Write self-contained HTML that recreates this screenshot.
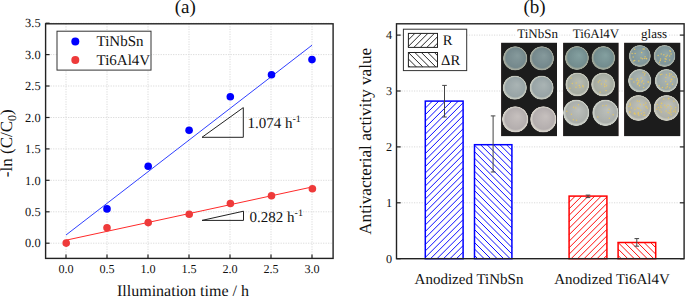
<!DOCTYPE html>
<html><head><meta charset="utf-8"><style>
html,body{margin:0;padding:0;background:#fff;width:685px;height:296px;overflow:hidden}
svg{display:block}
text{font-family:"Liberation Serif", serif;fill:#111;text-rendering:geometricPrecision}
</style></head><body>
<svg width="685" height="296" viewBox="0 0 685 296">
<line x1="66.0" y1="23.8" x2="66.0" y2="258.4" stroke="#dadada" stroke-width="1" stroke-dasharray="1.2,1.3"/>
<line x1="107.0" y1="23.8" x2="107.0" y2="258.4" stroke="#dadada" stroke-width="1" stroke-dasharray="1.2,1.3"/>
<line x1="148.0" y1="23.8" x2="148.0" y2="258.4" stroke="#dadada" stroke-width="1" stroke-dasharray="1.2,1.3"/>
<line x1="189.0" y1="23.8" x2="189.0" y2="258.4" stroke="#dadada" stroke-width="1" stroke-dasharray="1.2,1.3"/>
<line x1="230.0" y1="23.8" x2="230.0" y2="258.4" stroke="#dadada" stroke-width="1" stroke-dasharray="1.2,1.3"/>
<line x1="271.0" y1="23.8" x2="271.0" y2="258.4" stroke="#dadada" stroke-width="1" stroke-dasharray="1.2,1.3"/>
<line x1="312.0" y1="23.8" x2="312.0" y2="258.4" stroke="#dadada" stroke-width="1" stroke-dasharray="1.2,1.3"/>
<line x1="45.6" y1="243.2" x2="333.1" y2="243.2" stroke="#dadada" stroke-width="1" stroke-dasharray="1.2,1.3"/>
<line x1="45.6" y1="211.8" x2="333.1" y2="211.8" stroke="#dadada" stroke-width="1" stroke-dasharray="1.2,1.3"/>
<line x1="45.6" y1="180.3" x2="333.1" y2="180.3" stroke="#dadada" stroke-width="1" stroke-dasharray="1.2,1.3"/>
<line x1="45.6" y1="148.9" x2="333.1" y2="148.9" stroke="#dadada" stroke-width="1" stroke-dasharray="1.2,1.3"/>
<line x1="45.6" y1="117.5" x2="333.1" y2="117.5" stroke="#dadada" stroke-width="1" stroke-dasharray="1.2,1.3"/>
<line x1="45.6" y1="86.0" x2="333.1" y2="86.0" stroke="#dadada" stroke-width="1" stroke-dasharray="1.2,1.3"/>
<line x1="45.6" y1="54.6" x2="333.1" y2="54.6" stroke="#dadada" stroke-width="1" stroke-dasharray="1.2,1.3"/>
<line x1="45.6" y1="23.2" x2="333.1" y2="23.2" stroke="#dadada" stroke-width="1" stroke-dasharray="1.2,1.3"/>
<line x1="66.0" y1="258.4" x2="66.0" y2="254.39999999999998" stroke="#222" stroke-width="1.2"/>
<text x="66.0" y="273" font-size="12.2" text-anchor="middle">0.0</text>
<line x1="107.0" y1="258.4" x2="107.0" y2="254.39999999999998" stroke="#222" stroke-width="1.2"/>
<text x="107.0" y="273" font-size="12.2" text-anchor="middle">0.5</text>
<line x1="148.0" y1="258.4" x2="148.0" y2="254.39999999999998" stroke="#222" stroke-width="1.2"/>
<text x="148.0" y="273" font-size="12.2" text-anchor="middle">1.0</text>
<line x1="189.0" y1="258.4" x2="189.0" y2="254.39999999999998" stroke="#222" stroke-width="1.2"/>
<text x="189.0" y="273" font-size="12.2" text-anchor="middle">1.5</text>
<line x1="230.0" y1="258.4" x2="230.0" y2="254.39999999999998" stroke="#222" stroke-width="1.2"/>
<text x="230.0" y="273" font-size="12.2" text-anchor="middle">2.0</text>
<line x1="271.0" y1="258.4" x2="271.0" y2="254.39999999999998" stroke="#222" stroke-width="1.2"/>
<text x="271.0" y="273" font-size="12.2" text-anchor="middle">2.5</text>
<line x1="312.0" y1="258.4" x2="312.0" y2="254.39999999999998" stroke="#222" stroke-width="1.2"/>
<text x="312.0" y="273" font-size="12.2" text-anchor="middle">3.0</text>
<line x1="45.6" y1="243.2" x2="49.6" y2="243.2" stroke="#222" stroke-width="1.2"/>
<text x="40.6" y="247.4" font-size="12.4" text-anchor="end">0.0</text>
<line x1="45.6" y1="211.8" x2="49.6" y2="211.8" stroke="#222" stroke-width="1.2"/>
<text x="40.6" y="216.0" font-size="12.4" text-anchor="end">0.5</text>
<line x1="45.6" y1="180.3" x2="49.6" y2="180.3" stroke="#222" stroke-width="1.2"/>
<text x="40.6" y="184.5" font-size="12.4" text-anchor="end">1.0</text>
<line x1="45.6" y1="148.9" x2="49.6" y2="148.9" stroke="#222" stroke-width="1.2"/>
<text x="40.6" y="153.1" font-size="12.4" text-anchor="end">1.5</text>
<line x1="45.6" y1="117.5" x2="49.6" y2="117.5" stroke="#222" stroke-width="1.2"/>
<text x="40.6" y="121.7" font-size="12.4" text-anchor="end">2.0</text>
<line x1="45.6" y1="86.0" x2="49.6" y2="86.0" stroke="#222" stroke-width="1.2"/>
<text x="40.6" y="90.2" font-size="12.4" text-anchor="end">2.5</text>
<line x1="45.6" y1="54.6" x2="49.6" y2="54.6" stroke="#222" stroke-width="1.2"/>
<text x="40.6" y="58.8" font-size="12.4" text-anchor="end">3.0</text>
<line x1="45.6" y1="23.2" x2="49.6" y2="23.2" stroke="#222" stroke-width="1.2"/>
<text x="40.6" y="27.4" font-size="12.4" text-anchor="end">3.5</text>
<line x1="66" y1="235" x2="312" y2="45.2" stroke="#3040ff" stroke-width="1"/>
<line x1="66" y1="240.2" x2="312" y2="187" stroke="#ff2a2a" stroke-width="1"/>
<circle cx="107" cy="208.9" r="3.8" fill="#0000ff"/>
<circle cx="148.2" cy="166.3" r="3.8" fill="#0000ff"/>
<circle cx="189.1" cy="130.2" r="3.8" fill="#0000ff"/>
<circle cx="230.3" cy="96.7" r="3.8" fill="#0000ff"/>
<circle cx="271.5" cy="74.8" r="3.8" fill="#0000ff"/>
<circle cx="312" cy="59.6" r="3.8" fill="#0000ff"/>
<circle cx="66.2" cy="243.1" r="3.8" fill="#ee3a3a"/>
<circle cx="107" cy="227.7" r="3.8" fill="#ee3a3a"/>
<circle cx="189.2" cy="214.2" r="3.8" fill="#ee3a3a"/>
<circle cx="148.2" cy="222.6" r="3.8" fill="#ee3a3a"/>
<circle cx="230.4" cy="203.5" r="3.8" fill="#ee3a3a"/>
<circle cx="271.5" cy="195.8" r="3.8" fill="#ee3a3a"/>
<circle cx="312.4" cy="188.7" r="3.8" fill="#ee3a3a"/>
<path d="M202,137.3 L243.3,137.3 L243.3,107.6 Z" fill="none" stroke="#222" stroke-width="1"/>
<path d="M202,220.4 L243.5,220.4 L243.5,211.2 Z" fill="none" stroke="#222" stroke-width="1"/>
<text x="247.5" y="127.9" font-size="15">1.074 h<tspan font-size="10" dy="-6">-1</tspan></text>
<text x="249.6" y="221.5" font-size="15">0.282 h<tspan font-size="10" dy="-6">-1</tspan></text>
<rect x="57" y="31.2" width="94.0" height="38.9" fill="#fff" stroke="#333" stroke-width="1"/>
<circle cx="75.3" cy="41.4" r="4" fill="#0000ff"/>
<circle cx="75.3" cy="60" r="4" fill="#ee3a3a"/>
<text x="96.5" y="46.3" font-size="15">TiNbSn</text>
<text x="96.5" y="64.7" font-size="15">Ti6Al4V</text>
<rect x="45.6" y="23.8" width="287.5" height="234.6" fill="none" stroke="#222" stroke-width="1.4"/>
<text x="185.3" y="12.8" font-size="19" text-anchor="middle">(a)</text>
<text x="183" y="295.8" font-size="16" text-anchor="middle">Illumination time / h</text>
<text transform="translate(12.3,143.2) rotate(-90)" font-size="17" text-anchor="middle">-ln (C/C<tspan font-size="12" dy="3.8">0</tspan><tspan dy="-3.8">)</tspan></text>
<line x1="396.5" y1="202.8" x2="684.1" y2="202.8" stroke="#dadada" stroke-width="1" stroke-dasharray="1.2,1.3"/>
<line x1="396.5" y1="146.9" x2="684.1" y2="146.9" stroke="#dadada" stroke-width="1" stroke-dasharray="1.2,1.3"/>
<line x1="396.5" y1="91.0" x2="684.1" y2="91.0" stroke="#dadada" stroke-width="1" stroke-dasharray="1.2,1.3"/>
<line x1="396.5" y1="35.1" x2="684.1" y2="35.1" stroke="#dadada" stroke-width="1" stroke-dasharray="1.2,1.3"/>
<defs><pattern id="hb1" patternUnits="userSpaceOnUse" width="4.589" height="4.589" patternTransform="translate(425.1,101.1) rotate(45)"><line x1="0" y1="-1" x2="0" y2="5.589" stroke="#0000ff" stroke-width="0.9"/><line x1="4.589" y1="-1" x2="4.589" y2="5.589" stroke="#0000ff" stroke-width="0.9"/></pattern><pattern id="hb2" patternUnits="userSpaceOnUse" width="4.589" height="4.589" patternTransform="translate(474.5,144.4) rotate(-45)"><line x1="0" y1="-1" x2="0" y2="5.589" stroke="#0000ff" stroke-width="0.9"/><line x1="4.589" y1="-1" x2="4.589" y2="5.589" stroke="#0000ff" stroke-width="0.9"/></pattern><pattern id="hr3" patternUnits="userSpaceOnUse" width="4.589" height="4.589" patternTransform="translate(568.8,196.3) rotate(45)"><line x1="0" y1="-1" x2="0" y2="5.589" stroke="#ff0000" stroke-width="0.9"/><line x1="4.589" y1="-1" x2="4.589" y2="5.589" stroke="#ff0000" stroke-width="0.9"/></pattern><pattern id="hr4" patternUnits="userSpaceOnUse" width="4.589" height="4.589" patternTransform="translate(618.6,242.1) rotate(-45)"><line x1="0" y1="-1" x2="0" y2="5.589" stroke="#ff0000" stroke-width="0.9"/><line x1="4.589" y1="-1" x2="4.589" y2="5.589" stroke="#ff0000" stroke-width="0.9"/></pattern><pattern id="hkf" patternUnits="userSpaceOnUse" width="4.589" height="4.589" patternTransform="translate(408.4,33.4) rotate(45)"><line x1="0" y1="-1" x2="0" y2="5.589" stroke="#111" stroke-width="0.9"/><line x1="4.589" y1="-1" x2="4.589" y2="5.589" stroke="#111" stroke-width="0.9"/></pattern><pattern id="hkb" patternUnits="userSpaceOnUse" width="4.589" height="4.589" patternTransform="translate(408.4,52.5) rotate(-45)"><line x1="0" y1="-1" x2="0" y2="5.589" stroke="#111" stroke-width="0.9"/><line x1="4.589" y1="-1" x2="4.589" y2="5.589" stroke="#111" stroke-width="0.9"/></pattern><radialGradient id="p1r1" cx="50%" cy="50%" r="50%" fx="60%" fy="38%"><stop offset="0" stop-color="#869a9c"/><stop offset="0.8" stop-color="#74888c"/><stop offset="0.92" stop-color="#a4aa9e"/><stop offset="0.97" stop-color="#a4aa9e"/><stop offset="1" stop-color="#3a403e"/></radialGradient><radialGradient id="p1r2" cx="50%" cy="50%" r="50%" fx="60%" fy="38%"><stop offset="0" stop-color="#aab4b4"/><stop offset="0.8" stop-color="#98a4a6"/><stop offset="0.92" stop-color="#c4c8be"/><stop offset="0.97" stop-color="#c4c8be"/><stop offset="1" stop-color="#4a4e4c"/></radialGradient><radialGradient id="p1r3" cx="50%" cy="50%" r="50%" fx="60%" fy="38%"><stop offset="0" stop-color="#c6c0be"/><stop offset="0.8" stop-color="#b4aeae"/><stop offset="0.92" stop-color="#d4d0c8"/><stop offset="0.97" stop-color="#d4d0c8"/><stop offset="1" stop-color="#4e4a4a"/></radialGradient><radialGradient id="p2r1" cx="50%" cy="50%" r="50%" fx="60%" fy="38%"><stop offset="0" stop-color="#84a0a0"/><stop offset="0.8" stop-color="#728c8e"/><stop offset="0.92" stop-color="#a0a89a"/><stop offset="0.97" stop-color="#a0a89a"/><stop offset="1" stop-color="#3a403e"/></radialGradient><radialGradient id="p2r2" cx="50%" cy="50%" r="50%" fx="60%" fy="38%"><stop offset="0" stop-color="#b8bcb2"/><stop offset="0.8" stop-color="#a6aca2"/><stop offset="0.92" stop-color="#c8cabe"/><stop offset="0.97" stop-color="#c8cabe"/><stop offset="1" stop-color="#4a4e48"/></radialGradient><radialGradient id="p2r3" cx="50%" cy="50%" r="50%" fx="60%" fy="38%"><stop offset="0" stop-color="#bcc0bc"/><stop offset="0.8" stop-color="#aaaeaa"/><stop offset="0.92" stop-color="#cacec6"/><stop offset="0.97" stop-color="#cacec6"/><stop offset="1" stop-color="#4e504e"/></radialGradient><radialGradient id="p3r1" cx="50%" cy="50%" r="50%" fx="60%" fy="38%"><stop offset="0" stop-color="#92a8a8"/><stop offset="0.8" stop-color="#80969a"/><stop offset="0.92" stop-color="#a8b0a6"/><stop offset="0.97" stop-color="#a8b0a6"/><stop offset="1" stop-color="#3e4644"/></radialGradient><radialGradient id="p3r2" cx="50%" cy="50%" r="50%" fx="60%" fy="38%"><stop offset="0" stop-color="#aeb8b6"/><stop offset="0.8" stop-color="#9ca8a6"/><stop offset="0.92" stop-color="#c0c6bc"/><stop offset="0.97" stop-color="#c0c6bc"/><stop offset="1" stop-color="#464c4a"/></radialGradient><radialGradient id="p3r3" cx="50%" cy="50%" r="50%" fx="60%" fy="38%"><stop offset="0" stop-color="#c0c2ba"/><stop offset="0.8" stop-color="#aeb0a8"/><stop offset="0.92" stop-color="#cacabe"/><stop offset="0.97" stop-color="#cacabe"/><stop offset="1" stop-color="#4e504c"/></radialGradient><filter id="soft" x="-5%" y="-5%" width="110%" height="110%"><feGaussianBlur stdDeviation="0.45"/></filter></defs>
<rect x="425.3" y="101.1" width="37.8" height="157.6" fill="#fff"/>
<path d="M425.3,101.66L425.9,101.06M425.3,108.15L432.39,101.06M425.3,114.64L438.88,101.06M425.3,121.13L445.37,101.06M425.3,127.62L451.86,101.06M425.3,134.11L458.35,101.06M425.3,140.6L463.1,102.8M425.3,147.09L463.1,109.29M425.3,153.58L463.1,115.78M425.3,160.07L463.1,122.27M425.3,166.56L463.1,128.76M425.3,173.05L463.1,135.25M425.3,179.54L463.1,141.74M425.3,186.03L463.1,148.23M425.3,192.52L463.1,154.72M425.3,199.01L463.1,161.21M425.3,205.5L463.1,167.7M425.3,211.99L463.1,174.19M425.3,218.48L463.1,180.68M425.3,224.97L463.1,187.17M425.3,231.46L463.1,193.66M425.3,237.95L463.1,200.15M425.3,244.44L463.1,206.64M425.3,250.93L463.1,213.13M425.3,257.42L463.1,219.62M430.51,258.7L463.1,226.11M437.0,258.7L463.1,232.6M443.49,258.7L463.1,239.09M449.98,258.7L463.1,245.58M456.47,258.7L463.1,252.07M462.96,258.7L463.1,258.56" stroke="#0000ff" stroke-width="0.95" fill="none"/>
<rect x="425.3" y="101.1" width="37.8" height="157.6" fill="none" stroke="#0000ff" stroke-width="1.5"/>
<rect x="474.5" y="144.7" width="37.4" height="114.0" fill="#fff"/>
<path d="M474.5,255.49L477.71,258.7M474.5,249.0L484.2,258.7M474.5,242.51L490.69,258.7M474.5,236.02L497.18,258.7M474.5,229.53L503.67,258.7M474.5,223.04L510.16,258.7M474.5,216.55L511.9,253.95M474.5,210.06L511.9,247.46M474.5,203.57L511.9,240.97M474.5,197.08L511.9,234.48M474.5,190.59L511.9,227.99M474.5,184.1L511.9,221.5M474.5,177.61L511.9,215.01M474.5,171.12L511.9,208.52M474.5,164.63L511.9,202.03M474.5,158.14L511.9,195.54M474.5,151.65L511.9,189.05M474.5,145.16L511.9,182.56M480.49,144.66L511.9,176.07M486.98,144.66L511.9,169.58M493.47,144.66L511.9,163.09M499.96,144.66L511.9,156.6M506.45,144.66L511.9,150.11" stroke="#0000ff" stroke-width="0.95" fill="none"/>
<rect x="474.5" y="144.7" width="37.4" height="114.0" fill="none" stroke="#0000ff" stroke-width="1.5"/>
<rect x="569.1" y="196.1" width="37.8" height="62.6" fill="#fff"/>
<path d="M569.1,202.28L575.29,196.09M569.1,208.77L581.78,196.09M569.1,215.26L588.27,196.09M569.1,221.75L594.76,196.09M569.1,228.24L601.25,196.09M569.1,234.73L606.9,196.93M569.1,241.22L606.9,203.42M569.1,247.71L606.9,209.91M569.1,254.2L606.9,216.4M571.09,258.7L606.9,222.89M577.58,258.7L606.9,229.38M584.07,258.7L606.9,235.87M590.56,258.7L606.9,242.36M597.05,258.7L606.9,248.85M603.54,258.7L606.9,255.34" stroke="#ff0000" stroke-width="0.95" fill="none"/>
<rect x="569.1" y="196.1" width="37.8" height="62.6" fill="none" stroke="#ff0000" stroke-width="1.5"/>
<rect x="618.1" y="242.5" width="37.6" height="16.2" fill="#fff"/>
<path d="M618.1,255.47L621.33,258.7M618.1,248.98L627.82,258.7M618.1,242.49L634.31,258.7M624.59,242.49L640.8,258.7M631.08,242.49L647.29,258.7M637.57,242.49L653.78,258.7M644.06,242.49L655.7,254.13M650.55,242.49L655.7,247.64" stroke="#ff0000" stroke-width="0.95" fill="none"/>
<rect x="618.1" y="242.5" width="37.6" height="16.2" fill="none" stroke="#ff0000" stroke-width="1.5"/>
<path d="M444.5,85.4 V117 M442.2,85.4 h4.6 M442.2,117 h4.6" stroke="#444" stroke-width="1" fill="none"/>
<path d="M493.1,115.9 V172 M490.8,115.9 h4.6 M490.8,172 h4.6" stroke="#444" stroke-width="1" fill="none"/>
<path d="M588,195.1 V197.6 M585.7,195.1 h4.6 M585.7,197.6 h4.6" stroke="#444" stroke-width="1" fill="none"/>
<path d="M636.8,238.6 V246.2 M634.5,238.6 h4.6 M634.5,246.2 h4.6" stroke="#444" stroke-width="1" fill="none"/>
<rect x="403.4" y="29.2" width="63.3" height="41.4" fill="#fff" stroke="#333" stroke-width="1"/>
<path d="M408.4,33.4L408.4,33.4M408.4,39.89L414.89,33.4M408.4,46.38L421.38,33.4M413.87,47.4L427.87,33.4M420.36,47.4L434.36,33.4M426.85,47.4L437.5,36.75M433.34,47.4L437.5,43.24" stroke="#111" stroke-width="0.9" fill="none"/>
<rect x="408.4" y="33.4" width="29.1" height="14" fill="none" stroke="#222" stroke-width="1"/>
<path d="M408.4,65.48L409.82,66.9M408.4,58.99L416.31,66.9M408.4,52.5L422.8,66.9M414.89,52.5L429.29,66.9M421.38,52.5L435.78,66.9M427.87,52.5L437.5,62.13M434.36,52.5L437.5,55.64" stroke="#111" stroke-width="0.9" fill="none"/>
<rect x="408.4" y="52.5" width="29.1" height="14.4" fill="none" stroke="#222" stroke-width="1"/>
<text x="442.8" y="45.3" font-size="14.6">R</text>
<text x="441" y="65" font-size="14.6">ΔR</text>
<g filter="url(#soft)">
<rect x="501.1" y="42.8" width="55.9" height="93.3" fill="#1c1a1a"/>
<rect x="563.1" y="42.8" width="55.5" height="93.3" fill="#1c1a1a"/>
<rect x="624.1" y="42.8" width="56.2" height="93.3" fill="#1c1a1a"/>
<circle cx="515.2" cy="58.4" r="12.2" fill="url(#p1r1)"/>
<circle cx="541.8" cy="58.4" r="12.2" fill="url(#p1r1)"/>
<circle cx="514.8" cy="87.7" r="12.1" fill="url(#p1r2)"/>
<circle cx="541.6" cy="87.7" r="12.1" fill="url(#p1r2)"/>
<circle cx="515.2" cy="119.4" r="13.2" fill="url(#p1r3)"/>
<circle cx="543.3" cy="119.4" r="13.2" fill="url(#p1r3)"/>
<circle cx="576.9" cy="58" r="12" fill="url(#p2r1)"/>
<circle cx="603.3" cy="58" r="11.9" fill="url(#p2r1)"/>
<circle cx="577.3" cy="84.5" r="12" fill="url(#p2r2)"/>
<circle cx="576.0" cy="87.2" r="0.75" fill="#e8c860" opacity="0.85"/>
<circle cx="576.2" cy="82.9" r="0.75" fill="#e8c860" opacity="0.85"/>
<circle cx="572.3" cy="83.4" r="0.75" fill="#e8c860" opacity="0.85"/>
<circle cx="583.1" cy="86.7" r="0.75" fill="#e8c860" opacity="0.85"/>
<circle cx="582.8" cy="85.8" r="0.75" fill="#e8c860" opacity="0.85"/>
<circle cx="579.3" cy="85.4" r="0.75" fill="#e8c860" opacity="0.85"/>
<circle cx="569.9" cy="88.3" r="0.75" fill="#e8c860" opacity="0.85"/>
<circle cx="580.0" cy="87.2" r="0.75" fill="#e8c860" opacity="0.85"/>
<circle cx="571.0" cy="78.0" r="0.75" fill="#e8c860" opacity="0.85"/>
<circle cx="603.1" cy="84.5" r="12" fill="url(#p2r2)"/>
<circle cx="598.3" cy="82.0" r="0.75" fill="#e8c860" opacity="0.85"/>
<circle cx="604.6" cy="84.3" r="0.75" fill="#e8c860" opacity="0.85"/>
<circle cx="605.9" cy="81.0" r="0.75" fill="#e8c860" opacity="0.85"/>
<circle cx="604.7" cy="86.5" r="0.75" fill="#e8c860" opacity="0.85"/>
<circle cx="600.1" cy="92.2" r="0.75" fill="#e8c860" opacity="0.85"/>
<circle cx="606.0" cy="90.6" r="0.75" fill="#e8c860" opacity="0.85"/>
<circle cx="599.8" cy="80.5" r="0.75" fill="#e8c860" opacity="0.85"/>
<circle cx="601.4" cy="84.0" r="0.75" fill="#e8c860" opacity="0.85"/>
<circle cx="606.5" cy="85.8" r="0.75" fill="#e8c860" opacity="0.85"/>
<circle cx="576.2" cy="112.8" r="13.2" fill="url(#p2r3)"/>
<circle cx="573.6" cy="107.2" r="0.75" fill="#e8c860" opacity="0.85"/>
<circle cx="573.3" cy="119.7" r="0.75" fill="#e8c860" opacity="0.85"/>
<circle cx="571.4" cy="114.2" r="0.75" fill="#e8c860" opacity="0.85"/>
<circle cx="578.5" cy="104.8" r="0.75" fill="#e8c860" opacity="0.85"/>
<circle cx="576.5" cy="120.2" r="0.75" fill="#e8c860" opacity="0.85"/>
<circle cx="566.8" cy="111.3" r="0.75" fill="#e8c860" opacity="0.85"/>
<circle cx="575.6" cy="108.0" r="0.75" fill="#e8c860" opacity="0.85"/>
<circle cx="605.4" cy="112.8" r="13.2" fill="url(#p2r3)"/>
<circle cx="608.2" cy="112.4" r="0.75" fill="#e8c860" opacity="0.85"/>
<circle cx="597.8" cy="117.1" r="0.75" fill="#e8c860" opacity="0.85"/>
<circle cx="609.3" cy="118.3" r="0.75" fill="#e8c860" opacity="0.85"/>
<circle cx="613.2" cy="114.8" r="0.75" fill="#e8c860" opacity="0.85"/>
<circle cx="606.1" cy="105.5" r="0.75" fill="#e8c860" opacity="0.85"/>
<circle cx="609.0" cy="109.2" r="0.75" fill="#e8c860" opacity="0.85"/>
<circle cx="602.9" cy="105.7" r="0.75" fill="#e8c860" opacity="0.85"/>
<circle cx="639.8" cy="56" r="11" fill="url(#p3r1)"/>
<circle cx="635.1" cy="53.4" r="0.75" fill="#e8c860" opacity="0.85"/>
<circle cx="644.2" cy="49.0" r="0.75" fill="#e8c860" opacity="0.85"/>
<circle cx="633.2" cy="57.1" r="0.75" fill="#e8c860" opacity="0.85"/>
<circle cx="646.2" cy="58.6" r="0.75" fill="#e8c860" opacity="0.85"/>
<circle cx="634.7" cy="49.2" r="0.75" fill="#e8c860" opacity="0.85"/>
<circle cx="641.6" cy="52.4" r="0.75" fill="#e8c860" opacity="0.85"/>
<circle cx="634.7" cy="60.4" r="0.75" fill="#e8c860" opacity="0.85"/>
<circle cx="645.1" cy="56.8" r="0.75" fill="#e8c860" opacity="0.85"/>
<circle cx="641.0" cy="58.1" r="0.75" fill="#e8c860" opacity="0.85"/>
<circle cx="646.6" cy="58.7" r="0.75" fill="#e8c860" opacity="0.85"/>
<circle cx="642.4" cy="58.7" r="0.75" fill="#e8c860" opacity="0.85"/>
<circle cx="633.7" cy="61.0" r="0.75" fill="#e8c860" opacity="0.85"/>
<circle cx="644.4" cy="58.6" r="0.75" fill="#e8c860" opacity="0.85"/>
<circle cx="632.2" cy="53.6" r="0.75" fill="#e8c860" opacity="0.85"/>
<circle cx="643.1" cy="48.9" r="0.75" fill="#e8c860" opacity="0.85"/>
<circle cx="638.9" cy="61.0" r="0.75" fill="#e8c860" opacity="0.85"/>
<circle cx="664.5" cy="56" r="11" fill="url(#p3r1)"/>
<circle cx="659.5" cy="62.2" r="0.75" fill="#e8c860" opacity="0.85"/>
<circle cx="667.2" cy="55.3" r="0.75" fill="#e8c860" opacity="0.85"/>
<circle cx="666.1" cy="59.2" r="0.75" fill="#e8c860" opacity="0.85"/>
<circle cx="665.1" cy="61.5" r="0.75" fill="#e8c860" opacity="0.85"/>
<circle cx="661.2" cy="54.0" r="0.75" fill="#e8c860" opacity="0.85"/>
<circle cx="669.6" cy="56.1" r="0.75" fill="#e8c860" opacity="0.85"/>
<circle cx="660.3" cy="60.5" r="0.75" fill="#e8c860" opacity="0.85"/>
<circle cx="671.1" cy="54.0" r="0.75" fill="#e8c860" opacity="0.85"/>
<circle cx="658.1" cy="55.4" r="0.75" fill="#e8c860" opacity="0.85"/>
<circle cx="663.8" cy="54.7" r="0.75" fill="#e8c860" opacity="0.85"/>
<circle cx="670.5" cy="51.6" r="0.75" fill="#e8c860" opacity="0.85"/>
<circle cx="669.8" cy="50.7" r="0.75" fill="#e8c860" opacity="0.85"/>
<circle cx="660.6" cy="59.1" r="0.75" fill="#e8c860" opacity="0.85"/>
<circle cx="669.7" cy="60.0" r="0.75" fill="#e8c860" opacity="0.85"/>
<circle cx="666.1" cy="56.6" r="0.75" fill="#e8c860" opacity="0.85"/>
<circle cx="665.2" cy="58.8" r="0.75" fill="#e8c860" opacity="0.85"/>
<circle cx="639.7" cy="80.7" r="11.7" fill="url(#p3r2)"/>
<circle cx="638.9" cy="82.0" r="0.75" fill="#e8c860" opacity="0.85"/>
<circle cx="642.6" cy="80.7" r="0.75" fill="#e8c860" opacity="0.85"/>
<circle cx="643.7" cy="83.7" r="0.75" fill="#e8c860" opacity="0.85"/>
<circle cx="648.0" cy="82.0" r="0.75" fill="#e8c860" opacity="0.85"/>
<circle cx="637.5" cy="78.8" r="0.75" fill="#e8c860" opacity="0.85"/>
<circle cx="639.6" cy="85.5" r="0.75" fill="#e8c860" opacity="0.85"/>
<circle cx="638.0" cy="82.7" r="0.75" fill="#e8c860" opacity="0.85"/>
<circle cx="645.0" cy="73.3" r="0.75" fill="#e8c860" opacity="0.85"/>
<circle cx="633.9" cy="82.0" r="0.75" fill="#e8c860" opacity="0.85"/>
<circle cx="641.7" cy="81.9" r="0.75" fill="#e8c860" opacity="0.85"/>
<circle cx="637.4" cy="84.1" r="0.75" fill="#e8c860" opacity="0.85"/>
<circle cx="641.2" cy="78.0" r="0.75" fill="#e8c860" opacity="0.85"/>
<circle cx="648.5" cy="82.0" r="0.75" fill="#e8c860" opacity="0.85"/>
<circle cx="636.9" cy="80.2" r="0.75" fill="#e8c860" opacity="0.85"/>
<circle cx="638.7" cy="80.4" r="0.75" fill="#e8c860" opacity="0.85"/>
<circle cx="630.8" cy="79.1" r="0.75" fill="#e8c860" opacity="0.85"/>
<circle cx="644.5" cy="75.1" r="0.75" fill="#e8c860" opacity="0.85"/>
<circle cx="639.4" cy="85.7" r="0.75" fill="#e8c860" opacity="0.85"/>
<circle cx="643.6" cy="87.5" r="0.75" fill="#e8c860" opacity="0.85"/>
<circle cx="632.0" cy="79.1" r="0.75" fill="#e8c860" opacity="0.85"/>
<circle cx="637.9" cy="84.0" r="0.75" fill="#e8c860" opacity="0.85"/>
<circle cx="643.1" cy="72.3" r="0.75" fill="#e8c860" opacity="0.85"/>
<circle cx="666.4" cy="80.7" r="11.7" fill="url(#p3r2)"/>
<circle cx="671.2" cy="74.3" r="0.75" fill="#e8c860" opacity="0.85"/>
<circle cx="669.6" cy="73.8" r="0.75" fill="#e8c860" opacity="0.85"/>
<circle cx="667.3" cy="86.8" r="0.75" fill="#e8c860" opacity="0.85"/>
<circle cx="665.7" cy="81.6" r="0.75" fill="#e8c860" opacity="0.85"/>
<circle cx="670.6" cy="81.4" r="0.75" fill="#e8c860" opacity="0.85"/>
<circle cx="666.0" cy="88.0" r="0.75" fill="#e8c860" opacity="0.85"/>
<circle cx="671.8" cy="79.2" r="0.75" fill="#e8c860" opacity="0.85"/>
<circle cx="674.8" cy="77.2" r="0.75" fill="#e8c860" opacity="0.85"/>
<circle cx="671.2" cy="79.3" r="0.75" fill="#e8c860" opacity="0.85"/>
<circle cx="667.1" cy="84.4" r="0.75" fill="#e8c860" opacity="0.85"/>
<circle cx="667.6" cy="84.0" r="0.75" fill="#e8c860" opacity="0.85"/>
<circle cx="660.3" cy="74.7" r="0.75" fill="#e8c860" opacity="0.85"/>
<circle cx="669.6" cy="75.8" r="0.75" fill="#e8c860" opacity="0.85"/>
<circle cx="661.8" cy="74.2" r="0.75" fill="#e8c860" opacity="0.85"/>
<circle cx="672.5" cy="84.3" r="0.75" fill="#e8c860" opacity="0.85"/>
<circle cx="673.0" cy="76.5" r="0.75" fill="#e8c860" opacity="0.85"/>
<circle cx="666.4" cy="74.8" r="0.75" fill="#e8c860" opacity="0.85"/>
<circle cx="669.8" cy="87.8" r="0.75" fill="#e8c860" opacity="0.85"/>
<circle cx="662.4" cy="87.6" r="0.75" fill="#e8c860" opacity="0.85"/>
<circle cx="671.6" cy="79.8" r="0.75" fill="#e8c860" opacity="0.85"/>
<circle cx="659.2" cy="85.8" r="0.75" fill="#e8c860" opacity="0.85"/>
<circle cx="665.9" cy="77.6" r="0.75" fill="#e8c860" opacity="0.85"/>
<circle cx="638.4" cy="108" r="13" fill="url(#p3r3)"/>
<circle cx="640.7" cy="110.3" r="0.75" fill="#e8c860" opacity="0.85"/>
<circle cx="645.8" cy="103.0" r="0.75" fill="#e8c860" opacity="0.85"/>
<circle cx="643.9" cy="115.2" r="0.75" fill="#e8c860" opacity="0.85"/>
<circle cx="646.2" cy="107.0" r="0.75" fill="#e8c860" opacity="0.85"/>
<circle cx="634.2" cy="113.7" r="0.75" fill="#e8c860" opacity="0.85"/>
<circle cx="638.9" cy="108.6" r="0.75" fill="#e8c860" opacity="0.85"/>
<circle cx="646.1" cy="106.6" r="0.75" fill="#e8c860" opacity="0.85"/>
<circle cx="628.8" cy="106.4" r="0.75" fill="#e8c860" opacity="0.85"/>
<circle cx="629.9" cy="111.8" r="0.75" fill="#e8c860" opacity="0.85"/>
<circle cx="640.2" cy="104.5" r="0.75" fill="#e8c860" opacity="0.85"/>
<circle cx="638.3" cy="112.9" r="0.75" fill="#e8c860" opacity="0.85"/>
<circle cx="638.8" cy="115.3" r="0.75" fill="#e8c860" opacity="0.85"/>
<circle cx="638.0" cy="114.0" r="0.75" fill="#e8c860" opacity="0.85"/>
<circle cx="644.9" cy="115.0" r="0.75" fill="#e8c860" opacity="0.85"/>
<circle cx="634.5" cy="113.0" r="0.75" fill="#e8c860" opacity="0.85"/>
<circle cx="630.1" cy="103.2" r="0.75" fill="#e8c860" opacity="0.85"/>
<circle cx="629.9" cy="112.6" r="0.75" fill="#e8c860" opacity="0.85"/>
<circle cx="631.5" cy="107.9" r="0.75" fill="#e8c860" opacity="0.85"/>
<circle cx="637.5" cy="107.9" r="0.75" fill="#e8c860" opacity="0.85"/>
<circle cx="635.0" cy="109.3" r="0.75" fill="#e8c860" opacity="0.85"/>
<circle cx="647.3" cy="108.2" r="0.75" fill="#e8c860" opacity="0.85"/>
<circle cx="641.4" cy="113.7" r="0.75" fill="#e8c860" opacity="0.85"/>
<circle cx="637.3" cy="101.0" r="0.75" fill="#e8c860" opacity="0.85"/>
<circle cx="635.3" cy="114.1" r="0.75" fill="#e8c860" opacity="0.85"/>
<circle cx="630.2" cy="105.0" r="0.75" fill="#e8c860" opacity="0.85"/>
<circle cx="644.0" cy="112.4" r="0.75" fill="#e8c860" opacity="0.85"/>
<circle cx="638.4" cy="112.7" r="0.75" fill="#e8c860" opacity="0.85"/>
<circle cx="639.3" cy="101.3" r="0.75" fill="#e8c860" opacity="0.85"/>
<circle cx="630.4" cy="104.7" r="0.75" fill="#e8c860" opacity="0.85"/>
<circle cx="643.7" cy="104.7" r="0.75" fill="#e8c860" opacity="0.85"/>
<circle cx="666.5" cy="108" r="13" fill="url(#p3r3)"/>
<circle cx="661.4" cy="103.6" r="0.75" fill="#e8c860" opacity="0.85"/>
<circle cx="658.4" cy="107.4" r="0.75" fill="#e8c860" opacity="0.85"/>
<circle cx="659.9" cy="110.1" r="0.75" fill="#e8c860" opacity="0.85"/>
<circle cx="656.8" cy="109.3" r="0.75" fill="#e8c860" opacity="0.85"/>
<circle cx="663.6" cy="99.1" r="0.75" fill="#e8c860" opacity="0.85"/>
<circle cx="670.7" cy="106.4" r="0.75" fill="#e8c860" opacity="0.85"/>
<circle cx="657.4" cy="104.4" r="0.75" fill="#e8c860" opacity="0.85"/>
<circle cx="668.1" cy="105.4" r="0.75" fill="#e8c860" opacity="0.85"/>
<circle cx="671.0" cy="112.3" r="0.75" fill="#e8c860" opacity="0.85"/>
<circle cx="670.4" cy="109.9" r="0.75" fill="#e8c860" opacity="0.85"/>
<circle cx="673.6" cy="111.5" r="0.75" fill="#e8c860" opacity="0.85"/>
<circle cx="668.5" cy="98.7" r="0.75" fill="#e8c860" opacity="0.85"/>
<circle cx="671.2" cy="114.8" r="0.75" fill="#e8c860" opacity="0.85"/>
<circle cx="664.8" cy="105.3" r="0.75" fill="#e8c860" opacity="0.85"/>
<circle cx="673.9" cy="101.3" r="0.75" fill="#e8c860" opacity="0.85"/>
<circle cx="668.4" cy="117.7" r="0.75" fill="#e8c860" opacity="0.85"/>
<circle cx="661.2" cy="111.9" r="0.75" fill="#e8c860" opacity="0.85"/>
<circle cx="675.6" cy="107.4" r="0.75" fill="#e8c860" opacity="0.85"/>
<circle cx="669.7" cy="113.2" r="0.75" fill="#e8c860" opacity="0.85"/>
<circle cx="661.2" cy="107.5" r="0.75" fill="#e8c860" opacity="0.85"/>
<circle cx="668.2" cy="112.8" r="0.75" fill="#e8c860" opacity="0.85"/>
<circle cx="666.3" cy="107.1" r="0.75" fill="#e8c860" opacity="0.85"/>
<circle cx="660.7" cy="105.9" r="0.75" fill="#e8c860" opacity="0.85"/>
<circle cx="671.7" cy="108.6" r="0.75" fill="#e8c860" opacity="0.85"/>
<circle cx="661.7" cy="103.2" r="0.75" fill="#e8c860" opacity="0.85"/>
<circle cx="675.7" cy="111.9" r="0.75" fill="#e8c860" opacity="0.85"/>
<circle cx="668.9" cy="98.3" r="0.75" fill="#e8c860" opacity="0.85"/>
<circle cx="670.1" cy="110.8" r="0.75" fill="#e8c860" opacity="0.85"/>
<circle cx="675.0" cy="110.1" r="0.75" fill="#e8c860" opacity="0.85"/>
<circle cx="666.1" cy="111.0" r="0.75" fill="#e8c860" opacity="0.85"/>
</g>
<rect x="515.6" y="30" width="44" height="9" fill="#fff"/>
<text x="537.6" y="37.6" font-size="13" text-anchor="middle">TiNbSn</text>
<rect x="570.9" y="30" width="50" height="9" fill="#fff"/>
<text x="595.9" y="37.6" font-size="13" text-anchor="middle">Ti6Al4V</text>
<rect x="640.1" y="30" width="28" height="9" fill="#fff"/>
<text x="654.1" y="37.6" font-size="13" text-anchor="middle">glass</text>
<line x1="396.5" y1="258.7" x2="400.7" y2="258.7" stroke="#222" stroke-width="1.2"/>
<line x1="684.1" y1="258.7" x2="679.9" y2="258.7" stroke="#222" stroke-width="1.2"/>
<text x="392.2" y="262.8" font-size="12.2" text-anchor="end">0</text>
<line x1="396.5" y1="202.8" x2="400.7" y2="202.8" stroke="#222" stroke-width="1.2"/>
<line x1="684.1" y1="202.8" x2="679.9" y2="202.8" stroke="#222" stroke-width="1.2"/>
<text x="392.2" y="206.9" font-size="12.2" text-anchor="end">1</text>
<line x1="396.5" y1="146.9" x2="400.7" y2="146.9" stroke="#222" stroke-width="1.2"/>
<line x1="684.1" y1="146.9" x2="679.9" y2="146.9" stroke="#222" stroke-width="1.2"/>
<text x="392.2" y="151.0" font-size="12.2" text-anchor="end">2</text>
<line x1="396.5" y1="91.0" x2="400.7" y2="91.0" stroke="#222" stroke-width="1.2"/>
<line x1="684.1" y1="91.0" x2="679.9" y2="91.0" stroke="#222" stroke-width="1.2"/>
<text x="392.2" y="95.1" font-size="12.2" text-anchor="end">3</text>
<line x1="396.5" y1="35.1" x2="400.7" y2="35.1" stroke="#222" stroke-width="1.2"/>
<line x1="684.1" y1="35.1" x2="679.9" y2="35.1" stroke="#222" stroke-width="1.2"/>
<text x="392.2" y="39.2" font-size="12.2" text-anchor="end">4</text>
<rect x="396.5" y="23.8" width="287.6" height="234.9" fill="none" stroke="#222" stroke-width="1.4"/>
<text x="534.5" y="12.8" font-size="19" text-anchor="middle">(b)</text>
<text x="469" y="283.5" font-size="15" text-anchor="middle">Anodized TiNbSn</text>
<text x="612" y="283.5" font-size="15" text-anchor="middle">Anodized Ti6Al4V</text>
<text transform="translate(371.3,141.3) rotate(-90)" font-size="17.2" text-anchor="middle">Antivacterial activity value</text>
</svg>
</body></html>
